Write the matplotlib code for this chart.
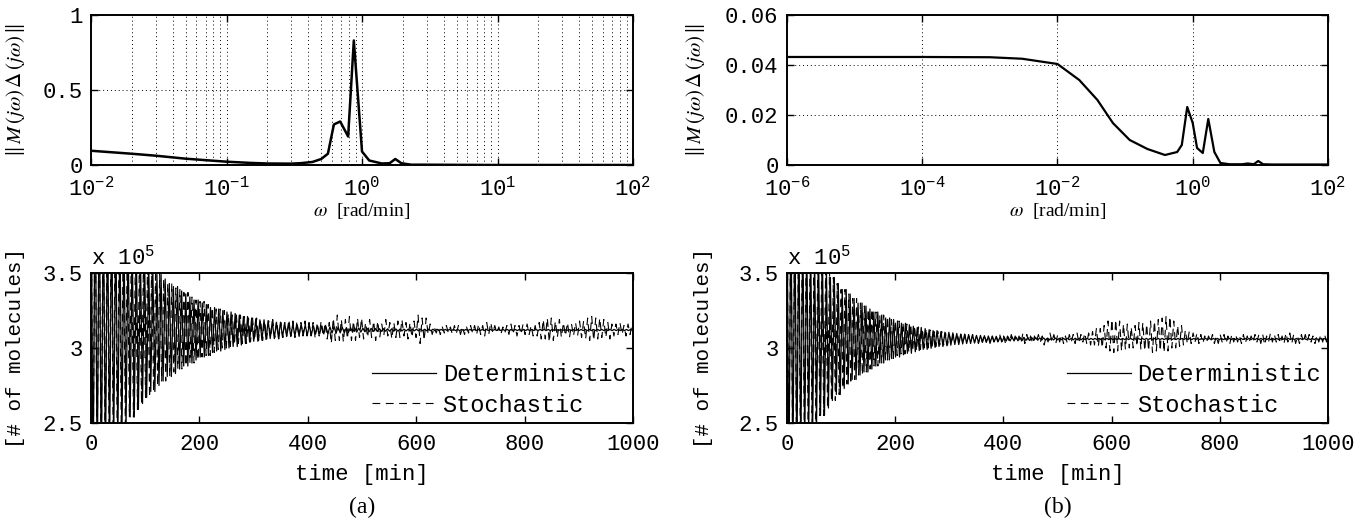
import numpy as np
import matplotlib.pyplot as plt
from matplotlib.ticker import FixedLocator, NullFormatter

plt.rcParams['font.family'] = ['Liberation Mono', 'DejaVu Sans Mono']
plt.rcParams['mathtext.fontset'] = 'stix'

SERIF = ['Liberation Serif', 'DejaVu Serif']

# ---- top row: norm of M(jw)Delta(jw) ----
w_a = [0.01, 0.02, 0.03, 0.05, 0.1, 0.15, 0.2, 0.3, 0.35, 0.43, 0.5, 0.56,
       0.62, 0.69, 0.79, 0.87, 1.0, 1.13, 1.4, 1.6, 1.76, 1.95, 2.3, 3.0,
       5.0, 10.0, 30.0, 100.0]
m_a = [0.095, 0.075, 0.062, 0.042, 0.022, 0.014, 0.010, 0.009, 0.012, 0.020,
       0.040, 0.075, 0.27, 0.29, 0.19, 0.83, 0.09, 0.03, 0.010, 0.012, 0.040,
       0.012, 0.002, 0.002, 0.001, 0.0, 0.0, 0.0]

w_b = [1e-6, 1e-5, 1e-4, 1e-3, 3e-3, 1e-2, 0.021, 0.039, 0.066, 0.117, 0.214,
       0.389, 0.59, 0.69, 0.83, 1.0, 1.16, 1.41, 1.7, 2.09, 2.57, 3.5, 5.4,
       6.5, 8.0, 9.3, 11.0, 15.0, 100.0]
m_b = [0.0432, 0.0432, 0.0432, 0.0431, 0.0425, 0.0404, 0.034, 0.026, 0.0168,
       0.010, 0.0064, 0.004, 0.0052, 0.008, 0.0232, 0.0168, 0.0068, 0.0048,
       0.0184, 0.0052, 0.0008, 0.0003, 0.0003, 0.0006, 0.0003, 0.0016,
       0.0003, 0.0002, 0.0002]

# ---- bottom row: oscillation amplitude (x 10^5) per 10 min chunk ----
center_a = 3.12
center_b = 3.06
period_det_a, period_sto_a = 7.6, 7.45
period_det_b, period_sto_b = 7.3, 7.15

det_amp_a = [1.09, 1.0, 0.91, 0.83, 0.76, 0.70, 0.64, 0.58, 0.53, 0.49,
             0.45, 0.41, 0.37, 0.34, 0.31, 0.29, 0.26, 0.24, 0.22, 0.20,
             0.18, 0.17, 0.15, 0.14, 0.13, 0.12, 0.11, 0.10, 0.09, 0.08,
             0.075, 0.068, 0.063, 0.057, 0.052, 0.048, 0.044, 0.040, 0.037, 0.034,
             0.031, 0.028, 0.026, 0.024, 0.021, 0.019, 0.018, 0.016, 0.015, 0.014,
             0.012, 0.011, 0.010, 0.009, 0.008, 0.008, 0.007, 0.006, 0.006, 0.005,
             0.005, 0.005, 0.005, 0.005, 0.004, 0.004, 0.004, 0.004, 0.004, 0.004,
             0.004, 0.004, 0.004, 0.004, 0.004, 0.004, 0.004, 0.004, 0.004, 0.004,
             0.004, 0.004, 0.004, 0.004, 0.004, 0.004, 0.004, 0.004, 0.004, 0.004,
             0.004, 0.004, 0.004, 0.004, 0.004, 0.004, 0.004, 0.004, 0.004, 0.004]
sto_up_a = [1.05, 0.97, 0.90, 0.82, 0.75, 0.70, 0.63, 0.58, 0.53, 0.49,
            0.45, 0.41, 0.37, 0.34, 0.31, 0.28, 0.27, 0.25, 0.22, 0.20,
            0.19, 0.17, 0.15, 0.14, 0.13, 0.11, 0.10, 0.10, 0.09, 0.08,
            0.08, 0.07, 0.06, 0.07, 0.06, 0.05, 0.07, 0.06, 0.05, 0.06,
            0.05, 0.04, 0.06, 0.05, 0.08, 0.10, 0.07, 0.09, 0.06, 0.08,
            0.05, 0.07, 0.06, 0.04, 0.07, 0.05, 0.06, 0.07, 0.05, 0.06,
            0.10, 0.08, 0.04, 0.02, 0.02, 0.03, 0.02, 0.03, 0.02, 0.02,
            0.03, 0.04, 0.03, 0.05, 0.03, 0.02, 0.03, 0.04, 0.03, 0.04,
            0.04, 0.03, 0.05, 0.07, 0.08, 0.06, 0.07, 0.05, 0.04, 0.05,
            0.06, 0.08, 0.09, 0.08, 0.07, 0.05, 0.04, 0.05, 0.03, 0.04]
sto_dn_a = [1.05, 0.97, 0.90, 0.82, 0.75, 0.70, 0.63, 0.58, 0.53, 0.49,
            0.45, 0.41, 0.37, 0.34, 0.31, 0.28, 0.26, 0.24, 0.22, 0.20,
            0.18, 0.17, 0.15, 0.13, 0.12, 0.11, 0.10, 0.09, 0.09, 0.08,
            0.07, 0.07, 0.06, 0.05, 0.06, 0.05, 0.04, 0.05, 0.05, 0.04,
            0.04, 0.05, 0.04, 0.06, 0.09, 0.07, 0.08, 0.06, 0.07, 0.05,
            0.06, 0.05, 0.07, 0.05, 0.04, 0.06, 0.05, 0.04, 0.06, 0.05,
            0.09, 0.07, 0.03, 0.02, 0.03, 0.02, 0.03, 0.02, 0.03, 0.02,
            0.02, 0.03, 0.04, 0.03, 0.02, 0.03, 0.02, 0.03, 0.04, 0.03,
            0.03, 0.04, 0.04, 0.06, 0.08, 0.07, 0.05, 0.04, 0.05, 0.04,
            0.05, 0.06, 0.07, 0.06, 0.05, 0.06, 0.04, 0.03, 0.04, 0.03]

det_amp_b = [0.95, 0.86, 0.77, 0.69, 0.62, 0.56, 0.51, 0.46, 0.41, 0.37,
             0.33, 0.30, 0.27, 0.24, 0.22, 0.20, 0.18, 0.16, 0.14, 0.13,
             0.12, 0.105, 0.095, 0.085, 0.077, 0.069, 0.062, 0.056, 0.050, 0.045,
             0.041, 0.037, 0.033, 0.030, 0.027, 0.024, 0.022, 0.020, 0.018, 0.016,
             0.014, 0.013, 0.012, 0.011, 0.010, 0.009, 0.008, 0.007, 0.006, 0.006,
             0.005, 0.005, 0.005, 0.005, 0.005, 0.004, 0.004, 0.004, 0.004, 0.004,
             0.004, 0.004, 0.004, 0.004, 0.004, 0.004, 0.004, 0.004, 0.004, 0.004,
             0.004, 0.004, 0.004, 0.004, 0.004, 0.004, 0.004, 0.004, 0.004, 0.004,
             0.004, 0.004, 0.004, 0.004, 0.004, 0.004, 0.004, 0.004, 0.004, 0.004,
             0.004, 0.004, 0.004, 0.004, 0.004, 0.004, 0.004, 0.004, 0.004, 0.004]
sto_up_b = [0.95, 0.86, 0.77, 0.69, 0.62, 0.56, 0.51, 0.46, 0.41, 0.37,
            0.33, 0.30, 0.27, 0.24, 0.22, 0.20, 0.18, 0.16, 0.15, 0.13,
            0.12, 0.11, 0.10, 0.09, 0.08, 0.07, 0.06, 0.05, 0.05, 0.04,
            0.03, 0.04, 0.03, 0.02, 0.03, 0.02, 0.03, 0.02, 0.02, 0.03,
            0.02, 0.03, 0.02, 0.04, 0.03, 0.02, 0.03, 0.02, 0.04, 0.03,
            0.03, 0.02, 0.03, 0.04, 0.03, 0.04, 0.05, 0.07, 0.09, 0.12,
            0.13, 0.12, 0.10, 0.08, 0.09, 0.11, 0.10, 0.12, 0.13, 0.14,
            0.15, 0.12, 0.09, 0.06, 0.05, 0.04, 0.03, 0.02, 0.03, 0.02,
            0.03, 0.02, 0.03, 0.02, 0.03, 0.02, 0.03, 0.03, 0.02, 0.04,
            0.03, 0.02, 0.04, 0.03, 0.02, 0.03, 0.03, 0.02, 0.03, 0.03]
sto_dn_b = [0.95, 0.86, 0.77, 0.69, 0.62, 0.56, 0.51, 0.46, 0.41, 0.37,
            0.33, 0.30, 0.27, 0.24, 0.22, 0.20, 0.18, 0.16, 0.14, 0.13,
            0.11, 0.10, 0.09, 0.08, 0.07, 0.06, 0.06, 0.05, 0.04, 0.04,
            0.03, 0.02, 0.03, 0.02, 0.02, 0.03, 0.02, 0.03, 0.02, 0.02,
            0.03, 0.02, 0.02, 0.03, 0.02, 0.03, 0.02, 0.04, 0.02, 0.03,
            0.02, 0.03, 0.02, 0.03, 0.02, 0.03, 0.04, 0.05, 0.06, 0.08,
            0.09, 0.08, 0.07, 0.06, 0.05, 0.07, 0.08, 0.09, 0.08, 0.09,
            0.08, 0.06, 0.05, 0.04, 0.03, 0.02, 0.03, 0.02, 0.02, 0.03,
            0.02, 0.03, 0.02, 0.02, 0.03, 0.02, 0.02, 0.03, 0.04, 0.02,
            0.02, 0.03, 0.02, 0.03, 0.03, 0.02, 0.02, 0.03, 0.02, 0.02]

log_ticks_a = [1e-2, 1e-1, 1e0, 1e1, 1e2]
log_labels_a = ['$\\mathregular{10^{-2}}$', '$\\mathregular{10^{-1}}$',
                '$\\mathregular{10^{0}}$', '$\\mathregular{10^{1}}$',
                '$\\mathregular{10^{2}}$']
log_ticks_b = [1e-6, 1e-4, 1e-2, 1e0, 1e2]
log_labels_b = ['$\\mathregular{10^{-6}}$', '$\\mathregular{10^{-4}}$',
                '$\\mathregular{10^{-2}}$', '$\\mathregular{10^{0}}$',
                '$\\mathregular{10^{2}}$']
time_ticks = [0, 200, 400, 600, 800, 1000]
mol_ticks = [2.5, 3.0, 3.5]
mol_labels = ['2.5', '3', '3.5']


def zigzag(center, up, down, period):
    # extremes of each half cycle, amplitude taken from the 10 min chunk
    t = np.arange(0, 1000 + period / 2, period / 2)
    idx = np.minimum((t // 10).astype(int), len(up) - 1)
    even = np.arange(len(t)) % 2 == 0
    y = np.where(even, center + np.asarray(up)[idx], center - np.asarray(down)[idx])
    return t, y


def style_box(ax):
    for s in ax.spines.values():
        s.set_linewidth(1.4)
    ax.tick_params(which='both', direction='in', top=True, right=True,
                   labelsize=16, length=5, width=1)
    ax.tick_params(axis='x', pad=8)
    ax.tick_params(axis='y', pad=6)
    ax.tick_params(which='minor', length=0)


grid_kw = dict(color='black', linestyle=(0, (1, 3)), linewidth=0.7)

fig = plt.figure(figsize=(13.71, 5.2), dpi=100)

ax1 = fig.add_axes([0.0664, 0.6827, 0.3953, 0.2885])
ax2 = fig.add_axes([0.574, 0.6827, 0.3946, 0.2885])
ax3 = fig.add_axes([0.0664, 0.1865, 0.3953, 0.2885])
ax4 = fig.add_axes([0.574, 0.1865, 0.3946, 0.2885])

# top left
ax1.plot(w_a, m_a, color='black', linewidth=1.8)
ax1.set_xscale('log')
ax1.set_xlim(1e-2, 1e2)
ax1.set_ylim(0, 1)
ax1.xaxis.set_major_locator(FixedLocator(log_ticks_a))
ax1.set_xticklabels(log_labels_a)
ax1.xaxis.set_minor_locator(FixedLocator(
    [m * 10.0 ** e for e in range(-2, 2) for m in range(2, 10)]))
ax1.xaxis.set_minor_formatter(NullFormatter())
ax1.set_yticks([0, 0.5, 1])
ax1.set_yticklabels(['0', '0.5', '1'])
ax1.grid(True, which='major', axis='both', **grid_kw)
ax1.grid(True, which='minor', axis='x', **grid_kw)

# top right
ax2.plot(w_b, m_b, color='black', linewidth=1.6)
ax2.set_xscale('log')
ax2.set_xlim(1e-6, 1e2)
ax2.set_ylim(0, 0.06)
ax2.xaxis.set_major_locator(FixedLocator(log_ticks_b))
ax2.set_xticklabels(log_labels_b)
ax2.xaxis.set_minor_locator(FixedLocator([]))
ax2.set_yticks([0, 0.02, 0.04, 0.06])
ax2.set_yticklabels(['0', '0.02', '0.04', '0.06'])
ax2.grid(True, which='major', axis='both', **grid_kw)

for ax, right in ((ax1, -0.118), (ax2, -0.148)):
    style_box(ax)
    ax.set_axisbelow(True)
    ax.set_xlabel('$\\omega$  [rad/min]', family=SERIF, fontsize=14)
    ax.xaxis.set_label_coords(0.5, -0.24)
    ax.set_ylabel('$\\|\\,M\\,(j\\omega)\\,\\Delta\\,(j\\omega)\\,\\|$', fontsize=15)
    ax.yaxis.set_label_coords(right, 0.5)

# bottom plots
panels = [
    (ax3, center_a, det_amp_a, sto_up_a, sto_dn_a, period_det_a, period_sto_a, -0.122, '(a)'),
    (ax4, center_b, det_amp_b, sto_up_b, sto_dn_b, period_det_b, period_sto_b, -0.137, '(b)'),
]
for ax, c, det, up, dn, pd_, ps_, right, tag in panels:
    td, yd = zigzag(c, det, det, pd_)
    ts, ys = zigzag(c, up, dn, ps_)
    ax.plot(td, yd, color='black', linewidth=0.9, label='Deterministic')
    ax.plot(ts, ys, color='black', linewidth=0.8, linestyle=(0, (7, 5)),
            label='Stochastic')
    ax.set_xlim(0, 1000)
    ax.set_ylim(2.5, 3.5)
    ax.set_xticks(time_ticks)
    ax.set_yticks(mol_ticks)
    ax.set_yticklabels(mol_labels)
    style_box(ax)
    ax.set_xlabel('time [min]', fontsize=16)
    ax.xaxis.set_label_coords(0.5, -0.275)
    ax.set_ylabel('[# of molecules]', fontsize=15)
    ax.yaxis.set_label_coords(right, 0.5)
    ax.text(0.0, 1.02, 'x $\\mathregular{10^5}$', transform=ax.transAxes,
            fontsize=16, ha='left', va='bottom')
    ax.legend(loc='lower right', bbox_to_anchor=(1.005, -0.02), frameon=False,
              fontsize=17, handlelength=2.7, handletextpad=0.3,
              labelspacing=0.3, borderaxespad=0.0)
    ax.text(0.5, -0.56, tag, transform=ax.transAxes, family=SERIF,
            fontsize=17, ha='center', va='center')

fig.savefig('out.png', dpi=100)
